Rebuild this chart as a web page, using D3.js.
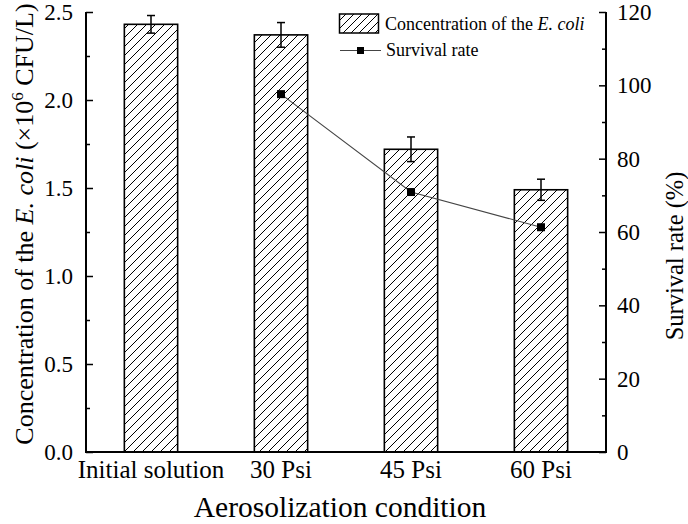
<!DOCTYPE html>
<html><head><meta charset="utf-8">
<script src="https://cdn.jsdelivr.net/npm/d3@7"></script>
<style>body{margin:0;background:#fff}svg{display:block}text{font-family:"Times New Roman",Tinos,Times,serif;fill:#000}</style>
</head><body><svg id="c" width="688" height="524"></svg>
<script>
const categories = ["Initial solution", "30 Psi", "45 Psi", "60 Psi"];
const concentration = [2.43, 2.37, 1.72, 1.49];
const concErr = [0.05, 0.07, 0.07, 0.06];
const survival = [null, 97.6, 70.9, 61.3];
const leftTicks = [0.0, 0.5, 1.0, 1.5, 2.0, 2.5];
const rightTicks = [0, 20, 40, 60, 80, 100, 120];

const svg = d3.select("#c");
const L = 86, R = 606, T = 12, B = 452;
const x = d3.scaleBand().domain(categories).range([L, R]).paddingInner(0.59).paddingOuter(0.295);
const y = d3.scaleLinear().domain([0, 2.5]).range([B, T]);
const y2 = d3.scaleLinear().domain([0, 120]).range([B, T]);

const defs = svg.append("defs");
const pat = defs.append("pattern").attr("id", "hatch").attr("patternUnits", "userSpaceOnUse")
  .attr("width", 9).attr("height", 9);
pat.append("path").attr("d", "M-1,10 L10,-1 M-1,1 L1,-1 M8,10 L10,8").attr("stroke", "#000").attr("stroke-width", 1);
const pat2 = defs.append("pattern").attr("id", "hatch2").attr("patternUnits", "userSpaceOnUse")
  .attr("width", 8).attr("height", 8);
pat2.append("path").attr("d", "M-1,9 L9,-1 M-1,1 L1,-1 M7,9 L9,7").attr("stroke", "#000").attr("stroke-width", 1);

svg.selectAll("rect.bar").data(categories).enter().append("rect")
  .attr("x", d => x(d)).attr("width", x.bandwidth())
  .attr("y", (d, i) => y(concentration[i])).attr("height", (d, i) => B - y(concentration[i]))
  .attr("fill", "url(#hatch)").attr("stroke", "#000").attr("stroke-width", 1.6);

const eb = svg.append("g").attr("stroke", "#000").attr("stroke-width", 1.5);
categories.forEach((c, i) => {
  const cx = x(c) + x.bandwidth() / 2;
  const y0 = y(concentration[i] - concErr[i]), y1 = y(concentration[i] + concErr[i]);
  eb.append("line").attr("x1", cx).attr("x2", cx).attr("y1", y0).attr("y2", y1);
  eb.append("line").attr("x1", cx - 4).attr("x2", cx + 4).attr("y1", y0).attr("y2", y0);
  eb.append("line").attr("x1", cx - 4).attr("x2", cx + 4).attr("y1", y1).attr("y2", y1);
});

const pts = categories.map((c, i) => [x(c) + x.bandwidth() / 2, survival[i]]).filter(p => p[1] != null);
svg.append("path").attr("d", d3.line().x(p => p[0]).y(p => y2(p[1]))(pts))
  .attr("fill", "none").attr("stroke", "#444").attr("stroke-width", 1.1);
svg.selectAll("rect.pt").data(pts).enter().append("rect")
  .attr("x", p => p[0] - 4).attr("y", p => y2(p[1]) - 4).attr("width", 8).attr("height", 8).attr("fill", "#000");

const ax = svg.append("g");
const minor = (arr) => { const r = []; for (let i = 0; i < arr.length - 1; i++) r.push((arr[i] + arr[i + 1]) / 2); return r; };
const gl = ax.append("g").attr("transform", `translate(${L},0)`)
  .call(d3.axisRight(y).tickValues(leftTicks).tickFormat(d3.format(".1f")).tickSize(7));
gl.select(".domain").remove();
gl.selectAll("text").remove();
gl.selectAll("line").attr("stroke-width", 1.5);
ax.append("g").attr("transform", `translate(${L},0)`)
  .call(d3.axisRight(y).tickValues(minor(leftTicks)).tickFormat("").tickSize(4))
  .call(g => { g.select(".domain").remove(); g.selectAll("line").attr("stroke-width", 1.5); });
ax.selectAll(null).data(leftTicks).enter().append("text")
  .attr("x", L - 13).attr("y", d => y(d)).attr("dy", "0.35em").attr("text-anchor", "end")
  .attr("font-size", 23).text(d3.format(".1f"));
const gr = ax.append("g").attr("transform", `translate(${R},0)`)
  .call(d3.axisLeft(y2).tickValues(rightTicks).tickSize(7));
gr.select(".domain").remove(); gr.selectAll("text").remove(); gr.selectAll("line").attr("stroke-width", 1.5);
ax.append("g").attr("transform", `translate(${R},0)`)
  .call(d3.axisLeft(y2).tickValues(minor(rightTicks)).tickFormat("").tickSize(4))
  .call(g => { g.select(".domain").remove(); g.selectAll("line").attr("stroke-width", 1.5); });
ax.selectAll(null).data(rightTicks).enter().append("text")
  .attr("x", R + 11).attr("y", d => y2(d)).attr("dy", "0.35em").attr("text-anchor", "start")
  .attr("font-size", 23).text(d => d);
ax.append("line").attr("x1", L).attr("x2", L).attr("y1", T).attr("y2", B).attr("stroke", "#000").attr("stroke-width", 2);
ax.append("line").attr("x1", R).attr("x2", R).attr("y1", T).attr("y2", B).attr("stroke", "#000").attr("stroke-width", 2);
ax.append("line").attr("x1", L - 1).attr("x2", R + 1).attr("y1", B).attr("y2", B).attr("stroke", "#000").attr("stroke-width", 2);
ax.selectAll(null).data(categories).enter().append("text")
  .attr("x", d => x(d) + x.bandwidth() / 2).attr("y", 478).attr("text-anchor", "middle")
  .attr("font-size", 25).text(d => d);

svg.append("text").attr("x", 340).attr("y", 517).attr("text-anchor", "middle")
  .attr("font-size", 29.5).text("Aerosolization condition");
const lt = svg.append("text").attr("transform", `translate(33,224) rotate(-90)`)
  .attr("text-anchor", "middle").attr("font-size", 26);
lt.append("tspan").text("Concentration of the ");
lt.append("tspan").attr("font-style", "italic").text("E. coli");
lt.append("tspan").text(" (×10");
lt.append("tspan").attr("font-size", 17).attr("dy", -10).text("6");
lt.append("tspan").attr("dy", 10).text(" CFU/L)");
svg.append("text").attr("transform", `translate(683,256) rotate(-90)`)
  .attr("text-anchor", "middle").attr("font-size", 24.5).text("Survival rate (%)");

const lg = svg.append("g");
lg.append("rect").attr("x", 339.5).attr("y", 14).attr("width", 39).attr("height", 19)
  .attr("fill", "url(#hatch2)").attr("stroke", "#000").attr("stroke-width", 1.5);
const lt1 = lg.append("text").attr("x", 385).attr("y", 29.5).attr("font-size", 18);
lt1.append("tspan").text("Concentration of the ");
lt1.append("tspan").attr("font-style", "italic").text("E. coli");
lg.append("line").attr("x1", 340).attr("x2", 381).attr("y1", 50.5).attr("y2", 50.5).attr("stroke", "#444").attr("stroke-width", 1.1);
lg.append("rect").attr("x", 357).attr("y", 47).attr("width", 7).attr("height", 7).attr("fill", "#000");
lg.append("text").attr("x", 386).attr("y", 55.5).attr("font-size", 18).text("Survival rate");
</script></body></html>
